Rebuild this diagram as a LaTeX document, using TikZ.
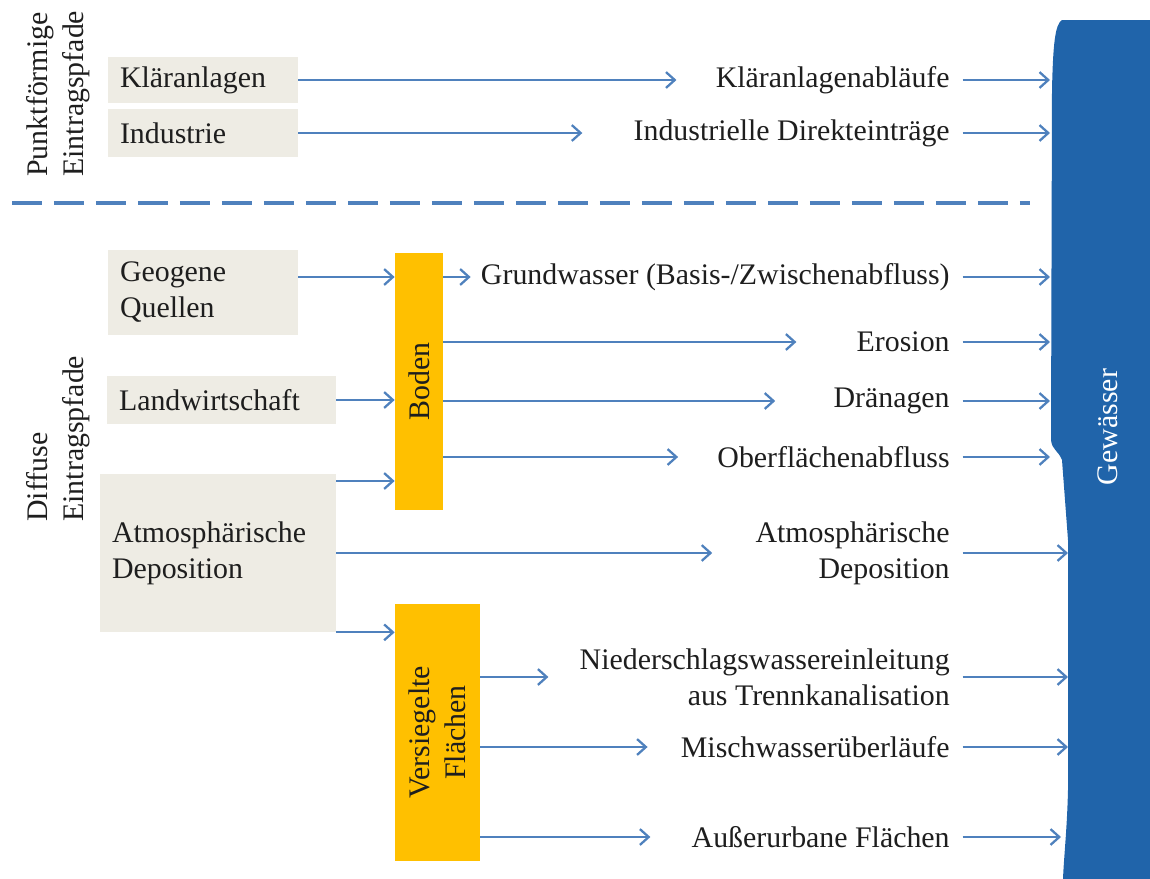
\documentclass[tikz,border=0pt]{standalone}
\usepackage{fontspec}
\setmainfont{Liberation Serif}
\usetikzlibrary{arrows.meta}

\definecolor{flowblue}{RGB}{79,129,189}
\definecolor{sourcegray}{RGB}{238,236,228}
\definecolor{sinkorange}{RGB}{255,192,0}
\definecolor{riverblue}{RGB}{32,100,170}
\definecolor{inktext}{RGB}{30,30,30}

\tikzset{
  flow/.style={draw=flowblue, line width=1.3pt,
    -{Straight Barb[length=5pt,width=9pt,line width=1.3pt]}},
  intoriver/.style={flow, shorten <=0.25cm},
  source/.style={fill=sourcegray, align=left, inner xsep=0.24cm, inner ysep=0pt},
  % rotated boxes: node north = picture left, node south = picture right
  sink/.style={fill=sinkorange, inner sep=0pt, rotate=90, align=center},
  pathtext/.style={anchor=east, align=right, inner sep=0pt},
  sidetitle/.style={rotate=90, anchor=west, align=left, inner sep=0pt},
  divider/.style={draw=flowblue, line width=2.2pt, dash pattern=on 0.6cm off 0.24cm}
}

\begin{document}
\begin{tikzpicture}[x=0.02cm, y=-0.02cm,
    every node/.style={font=\fontsize{17}{20.5}\selectfont, text=inktext}]
  \useasboundingbox (0,0) rectangle (1150,879);

  % the river (left edge steps out a little below the Boden rows)
  \fill[riverblue] (1062,20) .. controls (1055,24) and (1053,45) .. (1052,90)
        -- (1051,440) .. controls (1052,450) and (1058,450) .. (1062,460)
        -- (1068,540) -- (1068,790) .. controls (1067,830) and (1064,855) .. (1063,879)
        -- (1150,879) -- (1150,20) -- cycle;
  \node[rotate=90, text=white] (gew) at (1108,427) {Gewässer};
  \coordinate (upper)  at (1050,0);
  \coordinate (lower)  at (1068,0);
  \coordinate (bottom) at (1061,0);

  % side titles
  \node[sidetitle] (punkt) at (58,177) {Punktförmige\\Eintragspfade};
  \node[sidetitle] (diffus) at (58,522) {Diffuse\\Eintragspfade};

  % point sources
  \node[source, minimum width=3.8cm, minimum height=0.94cm, text width=3.32cm]
       (klaer) at (203,80) {Kläranlagen};
  \node[source, minimum width=3.8cm, minimum height=0.96cm, text width=3.32cm]
       (indu) at (203,133) {Industrie};
  \node[pathtext] (klaerab) at (950,80) {Kläranlagenabläufe};
  \node[pathtext] (induout) at (950,133) {Industrielle Direkteinträge};

  \draw[divider] (12,203) -- (1030,203);

  % diffuse sources
  \node[source, minimum width=3.8cm, minimum height=1.7cm, text width=3.32cm]
       (geo) at (203,292.5) {Geogene\\Quellen};
  \node[source, minimum width=4.58cm, minimum height=0.96cm, text width=4.1cm]
       (landw) at (221.5,400) {Landwirtschaft};
  \node[source, minimum width=4.72cm, minimum height=3.16cm, text width=4.24cm]
       (atmo) at (218,553) {Atmosphärische\\Deposition};

  % intermediate compartments
  \node[sink, minimum width=5.14cm, minimum height=0.96cm] (boden) at (419,381.5) {Boden};
  \node[sink, minimum width=5.14cm, minimum height=1.7cm] (versieg) at (437.5,732.5)
       {Versiegelte\\Flächen};

  % pathways
  \node[pathtext] (grund)   at (950,277) {Grundwasser (Basis-/Zwischenabfluss)};
  \node[pathtext] (erosion) at (950,342) {Erosion};
  \node[pathtext] (drain)   at (950,401) {Dränagen};
  \node[pathtext] (ober)    at (950,457) {Oberflächenabfluss};
  \node[pathtext] (atmoout) at (950,553) {Atmosphärische\\Deposition};
  \node[pathtext] (nieder)  at (950,677) {Niederschlagswassereinleitung\\aus Trennkanalisation};
  \node[pathtext] (misch)   at (950,747) {Mischwasserüberläufe};
  \node[pathtext] (ausser)  at (950,837) {Außerurbane Flächen};

  % arrows from the sources
  \draw[flow] (klaer.east) -- ([xshift=-0.78cm]klaerab.west);
  \draw[flow] (indu.east) -- ([xshift=-1.02cm]induout.west);
  \draw[flow] (geo.east |- grund) -- (boden.north |- grund);
  \draw[flow] (landw.east) -- (boden.north |- landw);
  \draw[flow] (atmo.east |- 0,481) -- (boden.north |- 0,481);
  \draw[flow] (atmo.east) -- ([xshift=-0.86cm]atmoout.west);
  \draw[flow] (atmo.south east) -- (versieg.north |- atmo.south east);

  % arrows out of Boden
  \draw[flow] (boden.south |- grund) -- ([xshift=-0.2cm]grund.west);
  \draw[flow] (boden.south |- erosion) -- ([xshift=-1.2cm]erosion.west);
  \draw[flow] (boden.south |- drain) -- ([xshift=-1.16cm]drain.west);
  \draw[flow] (boden.south |- ober) -- ([xshift=-0.78cm]ober.west);

  % arrows out of the sealed surfaces
  \draw[flow] (versieg.south |- nieder) -- ([xshift=-0.62cm]nieder.west);
  \draw[flow] (versieg.south |- misch) -- ([xshift=-0.66cm]misch.west);
  \draw[flow] (versieg.south |- ausser) -- ([xshift=-0.82cm]ausser.west);

  % into the river
  \draw[intoriver] (klaerab.east) -- (klaerab.east -| upper);
  \draw[intoriver] (induout.east) -- (induout.east -| upper);
  \draw[intoriver] (grund.east) -- (grund.east -| upper);
  \draw[intoriver] (erosion.east) -- (erosion.east -| upper);
  \draw[intoriver] (drain.east) -- (drain.east -| upper);
  \draw[intoriver] (ober.east) -- (ober.east -| upper);
  \draw[intoriver] (atmoout.east) -- (atmoout.east -| lower);
  \draw[intoriver] (nieder.east) -- (nieder.east -| lower);
  \draw[intoriver] (misch.east) -- (misch.east -| lower);
  \draw[intoriver] (ausser.east) -- (ausser.east -| bottom);
\end{tikzpicture}
\end{document}
